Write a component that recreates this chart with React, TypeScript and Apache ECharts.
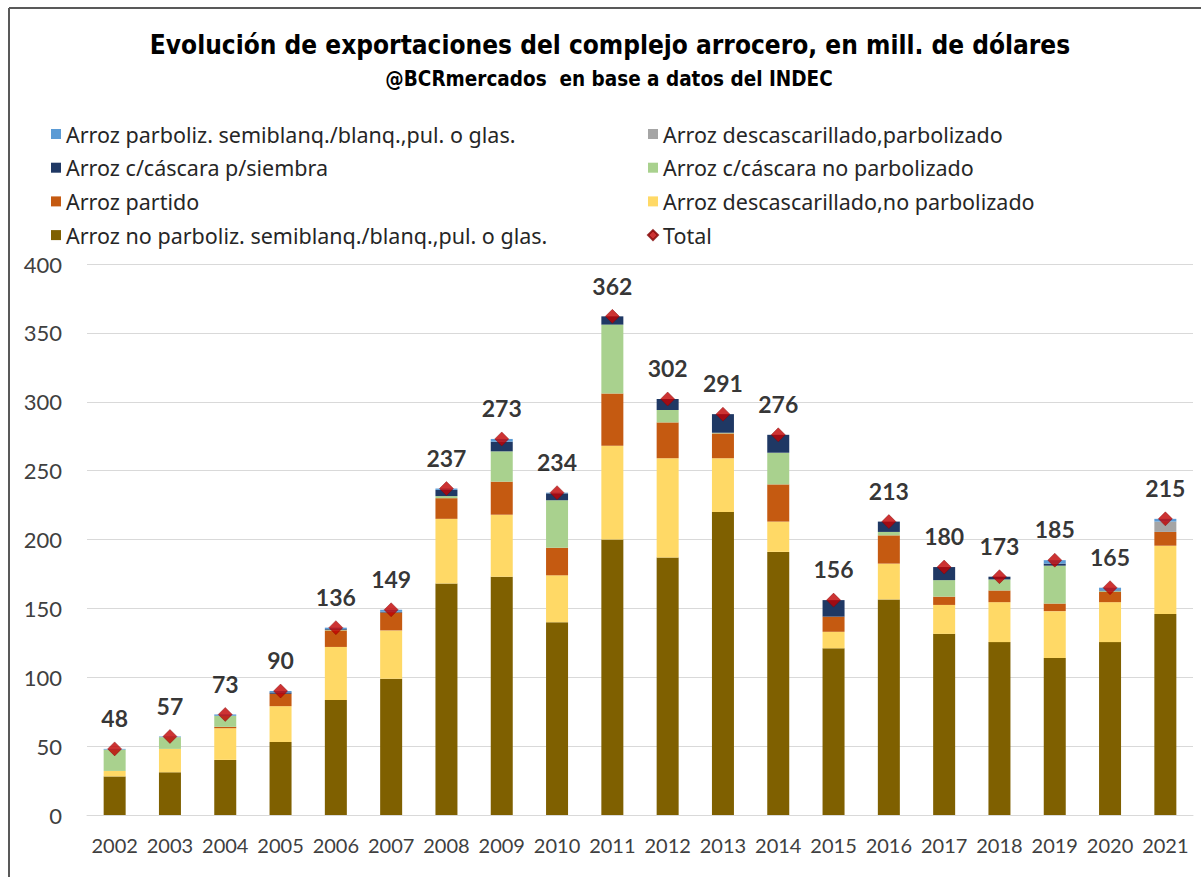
import React, { useEffect, useRef } from "react";
import * as echarts from "echarts";

const years = ["2002","2003","2004","2005","2006","2007","2008","2009","2010","2011","2012","2013","2014","2015","2016","2017","2018","2019","2020","2021"];

const noParbSemi = [28, 31, 40, 53, 83.5, 99, 168, 173, 140, 200, 187, 220, 191, 121, 156.5, 131.5, 125.5, 114, 125.5, 146];
const descNoParb = [4, 17, 23, 26, 38.5, 35, 47, 45, 34, 68, 72, 39, 22, 12, 26, 21, 29, 34, 29, 49.5];
const partido = [0, 0, 1, 9, 12, 13, 15, 24, 20, 38, 26, 18, 27, 11, 20.5, 6, 8.5, 5.5, 7.5, 10];
const cascaraNoParb = [15.5, 8.5, 8, 0, 0.5, 0, 1.5, 22, 34.5, 50, 9, 0.5, 23, 0, 2.5, 12, 8, 27.5, 0.5, 0];
const cascaraSiembra = [0, 0, 0, 1, 0.5, 0.5, 4.5, 7, 5, 6, 8, 13.5, 13, 12, 7.5, 9.5, 2, 1.5, 0.5, 0];
const descParb = [0, 0, 0, 0, 0, 0, 0, 0, 0, 0, 0, 0, 0, 0, 0, 0, 0, 0, 0, 7.5];
const parbSemi = [0.5, 0.5, 1, 1, 1, 1.5, 1, 2, 0.5, 0, 0, 0, 0, 0, 0, 0, 0, 2.5, 2, 2];
const totals = [48, 57, 73, 90, 136, 149, 237, 273, 234, 362, 302, 291, 276, 156, 213, 180, 173, 185, 165, 215];

const N_PARB_SEMI = "Arroz parboliz. semiblanq./blanq.,pul. o glas.";
const N_DESC_PARB = "Arroz descascarillado,parbolizado";
const N_SIEMBRA = "Arroz c/cáscara p/siembra";
const N_CASC_NO = "Arroz c/cáscara no parbolizado";
const N_PARTIDO = "Arroz partido";
const N_DESC_NO = "Arroz descascarillado,no parbolizado";
const N_NO_PARB = "Arroz no parboliz. semiblanq./blanq.,pul. o glas.";
const N_TOTAL = "Total";

const TITLE = "Evolución de exportaciones del complejo arrocero, en mill. de dólares";
const SUBTITLE = "@BCRmercados  en base a datos del INDEC";

const FONT = "Lato, 'Open Sans', sans-serif";
const LEGEND_FONT = "'Noto Sans', 'Open Sans', sans-serif";
const TITLE_FONT = "'Liberation Sans Narrow', 'DejaVu Sans Condensed', 'Arial Narrow', sans-serif";

export default function App() {
  const ref = useRef<HTMLDivElement>(null);
  useEffect(() => {
    document.body.style.margin = "0";
    const chart = echarts.init(ref.current!, null, { renderer: "svg" });
    const bar = (name: string, data: number[], color: string) => ({
      name,
      type: "bar",
      stack: "total",
      data,
      barWidth: 22,
      itemStyle: { color },
      emphasis: { disabled: true },
    });
    const legendText = { fontFamily: LEGEND_FONT, fontSize: 21.5, color: "#262626", lineHeight: 24 };
    chart.setOption({
      animation: false,
      backgroundColor: "#ffffff",
      textStyle: { fontFamily: FONT },
      graphic: [
        { type: "line", shape: { x1: 9, y1: 8, x2: 1201, y2: 8 }, style: { stroke: "#595959", lineWidth: 2 } },
        { type: "line", shape: { x1: 9, y1: 8, x2: 9, y2: 877 }, style: { stroke: "#595959", lineWidth: 2 } },
        {
          type: "text", x: 610, y: 45,
          style: { text: TITLE, fontFamily: TITLE_FONT, fontWeight: "bold", fontSize: 26, fill: "#000000", textAlign: "center", textVerticalAlign: "middle" },
        },
        {
          type: "text", x: 609, y: 79,
          style: { text: SUBTITLE, fontFamily: TITLE_FONT, fontWeight: "bold", fontSize: 20.5, fill: "#000000", textAlign: "center", textVerticalAlign: "middle" },
        },
      ],
      legend: [
        {
          orient: "vertical", left: 46, top: 117, itemWidth: 10, itemHeight: 10, itemGap: 9.7,
          data: [
            { name: N_PARB_SEMI, icon: "rect" },
            { name: N_SIEMBRA, icon: "rect" },
            { name: N_PARTIDO, icon: "rect" },
            { name: N_NO_PARB, icon: "rect" },
          ],
          textStyle: legendText,
        },
        {
          orient: "vertical", left: 642, top: 117, itemWidth: 10, itemHeight: 10, itemGap: 9.7,
          data: [
            { name: N_DESC_PARB, icon: "rect" },
            { name: N_CASC_NO, icon: "rect" },
            { name: N_DESC_NO, icon: "rect" },
            { name: N_TOTAL, icon: "diamond" },
          ],
          textStyle: legendText,
        },
      ],
      grid: { left: 87, right: 8, top: 264, bottom: 62, containLabel: false },
      xAxis: {
        type: "category",
        data: years,
        axisLine: { show: true, lineStyle: { color: "#D9D9D9", width: 1 } },
        axisTick: { show: false },
        axisLabel: { fontFamily: FONT, fontSize: 20, color: "#404040", margin: 20, interval: 0 },
      },
      yAxis: {
        type: "value",
        min: 0,
        max: 400,
        interval: 50,
        axisLine: { show: false },
        axisTick: { show: false },
        splitLine: { lineStyle: { color: "#D9D9D9", width: 1 } },
        axisLabel: { fontFamily: FONT, fontSize: 22, color: "#404040", margin: 25 },
      },
      series: [
        bar(N_NO_PARB, noParbSemi, "#7F6000"),
        bar(N_DESC_NO, descNoParb, "#FFD966"),
        bar(N_PARTIDO, partido, "#C55A11"),
        bar(N_CASC_NO, cascaraNoParb, "#A9D18E"),
        bar(N_SIEMBRA, cascaraSiembra, "#1F3864"),
        bar(N_DESC_PARB, descParb, "#A5A5A5"),
        bar(N_PARB_SEMI, parbSemi, "#5B9BD5"),
        {
          name: N_TOTAL,
          type: "scatter",
          data: totals,
          symbol: "diamond",
          symbolSize: 14,
          itemStyle: { color: "#C00000", borderColor: "#7F0000", borderWidth: 0.5 },
          label: {
            show: true,
            position: "top",
            distance: 12,
            fontFamily: FONT,
            fontWeight: "bold",
            fontSize: 23,
            color: "#000000",
          },
          z: 5,
          emphasis: { disabled: true },
        },
      ],
    });
    return () => chart.dispose();
  }, []);
  return <div ref={ref} style={{ width: 1201, height: 877 }} />;
}
